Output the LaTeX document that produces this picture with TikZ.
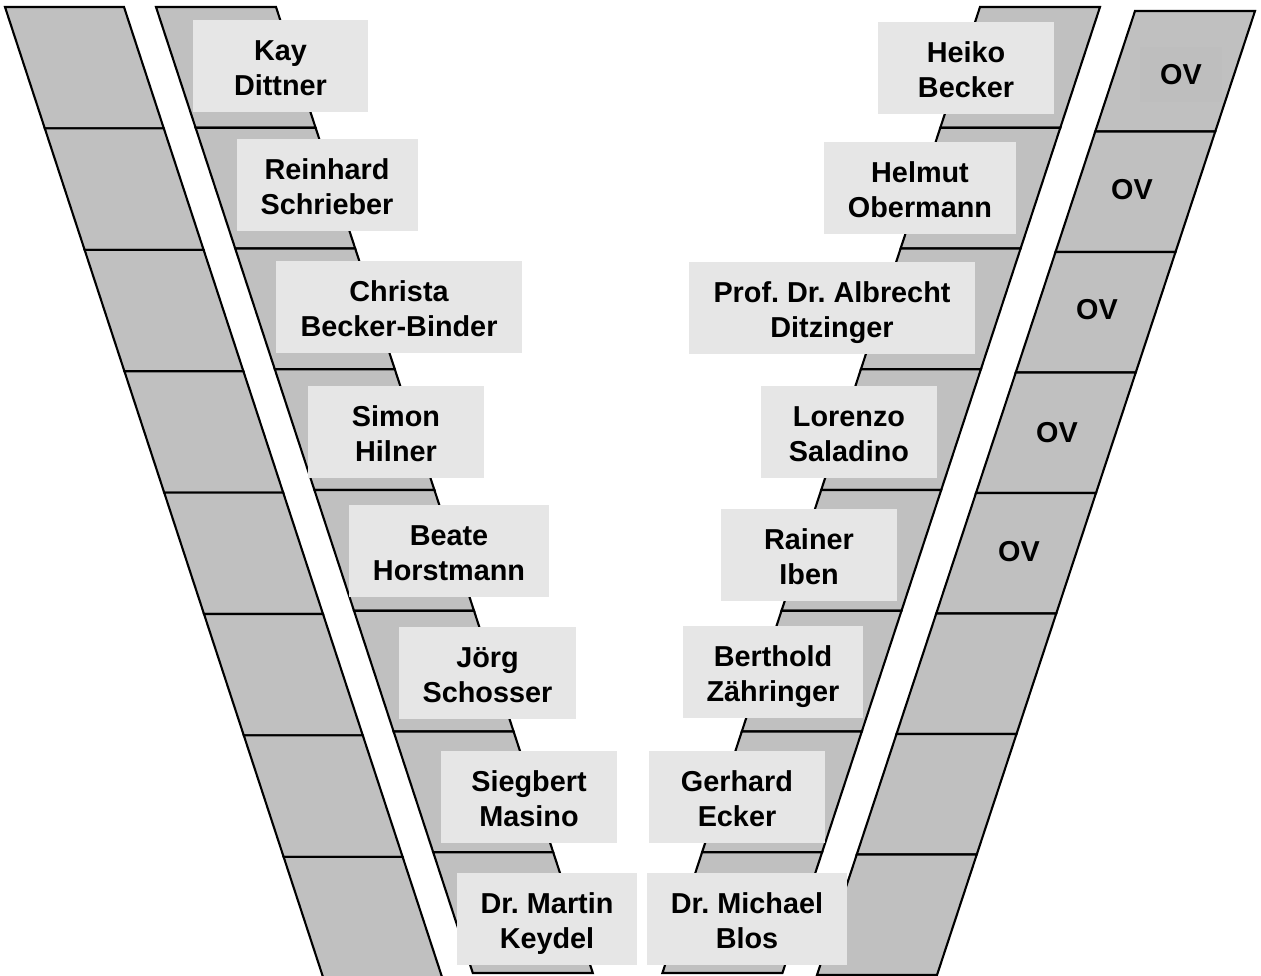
\documentclass[tikz,border=0pt]{standalone}
\usepackage{fontspec}
\setmainfont{Liberation Sans}
\usepackage{tikz}
\usepackage{xcolor}
\frenchspacing

\definecolor{cellgrey}{HTML}{C0C0C0}
\definecolor{ovgrey}{HTML}{BEBEBE}
\definecolor{boxgrey}{HTML}{E6E6E6}

\begin{document}
\begin{tikzpicture}[x=0.02cm, y=-0.02cm,
    cell/.style={draw, line width=1.2pt, fill=cellgrey, line join=miter},
    namebox/.style={rectangle, fill=boxgrey, minimum width=3.52cm, minimum height=1.8cm,
        inner xsep=0.27cm, text height=19.8pt, text depth=25.9pt,
        font=\fontsize{16.4}{19.9}\selectfont\bfseries},
    ovlabel/.style={font=\fontsize{16.4}{19.9}\selectfont\bfseries}]
\useasboundingbox (0,0) rectangle (1261,975);

% left columns
\foreach \i in {0,...,7}
  \draw[cell] ({5+39.8*\i},{7+121.4*\i}) -- ++(119,0) -- ++(39.8,121.4) -- ++(-119,0) -- cycle;
\foreach \i in {0,...,7}
  \draw[cell] ({156+39.6*\i},{7+120.75*\i}) -- ++(120,0) -- ++(39.6,120.75) -- ++(-120,0) -- cycle;

% right columns
\foreach \i in {0,...,7}
  \draw[cell] ({980-39.7*\i},{7+120.75*\i}) -- ++(120,0) -- ++(-39.7,120.75) -- ++(-120,0) -- cycle;
\foreach \i in {0,...,7}
  \draw[cell] ({1135-39.75*\i},{11+120.5*\i}) -- ++(120,0) -- ++(-39.75,120.5) -- ++(-120,0) -- cycle;

% names, left
\node[namebox] (kay) at (280.5,66) {\begin{tabular}[t]{c}Kay\\Dittner\end{tabular}};
\node[namebox] (reinhard) at (327,185) {\begin{tabular}[t]{c}Reinhard\\Schrieber\end{tabular}};
\node[namebox] (christa) at (399,306.5) {\begin{tabular}[t]{c}Christa\\Becker-Binder\end{tabular}};
\node[namebox] (simon) at (396,431.5) {\begin{tabular}[t]{c}Simon\\Hilner\end{tabular}};
\node[namebox] (beate) at (449,550.5) {\begin{tabular}[t]{c}Beate\\Horstmann\end{tabular}};
\node[namebox] (joerg) at (487.5,672.5) {\begin{tabular}[t]{c}Jörg\\Schosser\end{tabular}};
\node[namebox] (siegbert) at (529,796.5) {\begin{tabular}[t]{c}Siegbert\\Masino\end{tabular}};
\node[namebox] (martin) at (547,919) {\begin{tabular}[t]{c}Dr. Martin\\Keydel\end{tabular}};

% names, right
\node[namebox] (heiko) at (966,68) {\begin{tabular}[t]{c}Heiko\\Becker\end{tabular}};
\node[namebox] (helmut) at (920,188) {\begin{tabular}[t]{c}Helmut\\Obermann\end{tabular}};
\node[namebox] (albrecht) at (832,307.5) {\begin{tabular}[t]{c}Prof. Dr. Albrecht\\Ditzinger\end{tabular}};
\node[namebox] (lorenzo) at (849,431.5) {\begin{tabular}[t]{c}Lorenzo\\Saladino\end{tabular}};
\node[namebox] (rainer) at (809,554.5) {\begin{tabular}[t]{c}Rainer\\Iben\end{tabular}};
\node[namebox] (berthold) at (773,671.5) {\begin{tabular}[t]{c}Berthold\\Zähringer\end{tabular}};
\node[namebox] (gerhard) at (737,796.5) {\begin{tabular}[t]{c}Gerhard\\Ecker\end{tabular}};
\node[namebox] (michael) at (747,919) {\begin{tabular}[t]{c}Dr. Michael\\Blos\end{tabular}};

% OV
\node[ovlabel, fill=ovgrey, minimum width=1.64cm, minimum height=1.1cm] (ov1) at (1181,74.5) {OV};
\node[ovlabel] (ov2) at (1132,190) {OV};
\node[ovlabel] (ov3) at (1097,310) {OV};
\node[ovlabel] (ov4) at (1057,433) {OV};
\node[ovlabel] (ov5) at (1019,552) {OV};
\end{tikzpicture}
\end{document}
